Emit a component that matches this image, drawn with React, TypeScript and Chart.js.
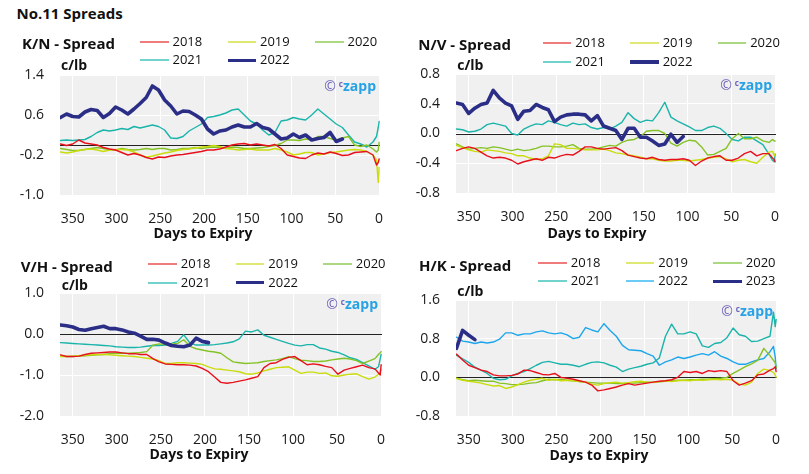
import React, { useEffect, useRef } from "react";
import { Chart, registerables } from "chart.js";

Chart.register(...registerables);

const FONT = "'Open Sans', 'DejaVu Sans', sans-serif";

// Days to expiry (shared sampling grid for every series)
const DAYS = [364, 357, 350, 343, 336, 329, 322, 315, 308, 301,
  294, 287, 280, 273, 266, 259, 252, 245, 238, 231,
  224, 217, 210, 203, 196, 189, 182, 175, 168, 161,
  154, 147, 140, 133, 126, 119, 112, 105, 98, 91,
  84, 77, 70, 63, 56, 49, 42, 35, 28, 21,
  14, 7, 3, 1, 0];

const X_TICKS = [350, 300, 250, 200, 150, 100, 50, 0];

const KN_YTICKS = [-1.0, -0.2, 0.6, 1.4];
const NV_YTICKS = [-0.8, -0.4, 0.0, 0.4, 0.8];
const VH_YTICKS = [-2.0, -1.0, 0.0, 1.0];
const HK_YTICKS = [-0.8, 0.0, 0.8, 1.6];

const YEARS_A = ["2018", "2019", "2020", "2021", "2022"];
const YEARS_B = ["2018", "2019", "2020", "2021", "2022", "2023"];

// ---- K/N spread (c/lb)
const KN_2018 = [0.02, -0.01, 0.02, 0.1, 0.04, 0.02, 0.0, -0.05, -0.08, -0.1,
  -0.15, -0.2, -0.17, -0.2, -0.25, -0.28, -0.24, -0.25, -0.22, -0.2,
  -0.19, -0.17, -0.15, -0.13, -0.1, -0.1, -0.08, -0.04, 0.0, 0.02,
  0.03, 0.0, 0.02, 0.0, -0.02, 0.01, -0.07, -0.2, -0.23, -0.26,
  -0.27, -0.2, -0.16, -0.18, -0.14, -0.17, -0.21, -0.2, -0.15, -0.14,
  -0.13, -0.2, -0.4, -0.35, -0.28];
const KN_2019 = [-0.14, -0.16, -0.14, -0.11, -0.09, -0.08, -0.1, -0.13, -0.1, -0.09,
  -0.09, -0.1, -0.14, -0.2, -0.24, -0.22, -0.19, -0.16, -0.14, -0.11,
  -0.09, -0.08, -0.06, -0.04, -0.03, -0.01, -0.03, -0.07, -0.08, -0.1,
  -0.09, -0.08, -0.1, -0.1, -0.1, -0.07, -0.1, -0.14, -0.2, -0.18,
  -0.15, -0.15, -0.2, -0.18, -0.15, -0.14, -0.12, -0.1, -0.09, -0.1,
  -0.13, -0.2, -0.3, -0.75, -0.45];
const KN_2020 = [-0.07, -0.09, -0.11, -0.11, -0.09, -0.07, -0.05, -0.07, -0.09, -0.1,
  -0.07, -0.09, -0.1, -0.09, -0.07, -0.09, -0.07, -0.07, -0.1, -0.09,
  -0.07, -0.07, -0.05, -0.07, -0.05, -0.04, -0.05, -0.07, -0.04, -0.05,
  -0.07, -0.07, -0.06, -0.05, -0.03, -0.01, 0.03, 0.1, 0.1, 0.09,
  0.12, 0.1, 0.17, 0.17, 0.13, 0.1, 0.14, 0.17, 0.0, -0.03,
  0.0, -0.08, -0.14, -0.1, 0.05];
const KN_2021 = [0.09, 0.1, 0.09, 0.1, 0.11, 0.17, 0.25, 0.3, 0.28, 0.3,
  0.33, 0.31, 0.37, 0.34, 0.37, 0.4, 0.37, 0.3, 0.14, 0.13,
  0.17, 0.28, 0.35, 0.42, 0.55, 0.57, 0.6, 0.64, 0.7, 0.72,
  0.6, 0.48, 0.42, 0.3, 0.2, 0.25, 0.48, 0.5, 0.55, 0.52,
  0.5, 0.6, 0.72, 0.62, 0.52, 0.42, 0.35, 0.2, 0.06, 0.02,
  -0.04, 0.06, 0.17, 0.35, 0.47];
const KN_2022 = [0.55, 0.62, 0.57, 0.56, 0.66, 0.71, 0.69, 0.55, 0.63, 0.76,
  0.7, 0.62, 0.72, 0.83, 0.95, 1.18, 1.1, 0.9, 0.78, 0.62,
  0.68, 0.67, 0.6, 0.52, 0.32, 0.22, 0.28, 0.3, 0.36, 0.4,
  0.36, 0.36, 0.43, 0.35, 0.32, 0.22, 0.12, 0.14, 0.22, 0.15,
  0.2, 0.1, 0.13, 0.15, 0.25, 0.07, 0.12];

// ---- N/V spread
const NV_2018 = [-0.23, -0.2, -0.18, -0.2, -0.25, -0.3, -0.33, -0.32, -0.33, -0.36,
  -0.41, -0.38, -0.36, -0.34, -0.36, -0.32, -0.33, -0.3, -0.28, -0.29,
  -0.24, -0.18, -0.18, -0.2, -0.21, -0.2, -0.19, -0.23, -0.29, -0.31,
  -0.33, -0.34, -0.32, -0.35, -0.36, -0.35, -0.35, -0.34, -0.36, -0.43,
  -0.37, -0.33, -0.31, -0.3, -0.36, -0.36, -0.33, -0.27, -0.24, -0.3,
  -0.27, -0.27, -0.33, -0.35, -0.38];
const NV_2019 = [-0.16, -0.19, -0.22, -0.24, -0.25, -0.22, -0.23, -0.24, -0.26, -0.27,
  -0.3, -0.3, -0.33, -0.35, -0.34, -0.3, -0.14, -0.15, -0.2, -0.2,
  -0.21, -0.22, -0.22, -0.22, -0.21, -0.23, -0.26, -0.27, -0.29, -0.3,
  -0.32, -0.34, -0.34, -0.36, -0.37, -0.37, -0.36, -0.36, -0.37, -0.36,
  -0.35, -0.33, -0.32, -0.31, -0.34, -0.38, -0.36, -0.35, -0.38, -0.4,
  -0.32, -0.25, -0.24, -0.3, -0.27];
const NV_2020 = [-0.14, -0.18, -0.21, -0.2, -0.19, -0.2, -0.18, -0.19, -0.21, -0.23,
  -0.21, -0.23, -0.22, -0.2, -0.17, -0.17, -0.18, -0.18, -0.17, -0.15,
  -0.2, -0.21, -0.21, -0.2, -0.18, -0.16, -0.17, -0.12, -0.09, -0.08,
  -0.04, 0.03, 0.04, 0.04, 0.0, -0.13, -0.17, -0.12, -0.09, -0.1,
  -0.18, -0.29, -0.28, -0.24, -0.2, -0.07, 0.0, -0.07, -0.07, -0.05,
  -0.1, -0.12, -0.08, -0.1, -0.1];
const NV_2021 = [0.06, 0.05, 0.02, 0.03, 0.06, 0.12, 0.14, 0.12, 0.1, 0.0,
  -0.02, 0.06, 0.1, 0.13, 0.12, 0.17, 0.15, 0.12, 0.1, 0.14,
  0.12, 0.13, 0.08, 0.06, 0.08, 0.06, 0.1, 0.15, 0.28, 0.2,
  0.15, 0.18, 0.17, 0.28, 0.42, 0.22, 0.17, 0.13, 0.09, 0.04,
  0.04, 0.08, 0.1, 0.07, 0.0, -0.08, -0.1, -0.05, -0.05, -0.1,
  -0.15, -0.28, -0.36, -0.38, -0.28];
const NV_2022 = [0.41, 0.39, 0.27, 0.34, 0.39, 0.41, 0.58, 0.48, 0.41, 0.37,
  0.19, 0.3, 0.31, 0.39, 0.35, 0.32, 0.16, 0.22, 0.25, 0.26,
  0.26, 0.25, 0.17, 0.24, 0.1, 0.07, 0.04, -0.08, 0.07, 0.07,
  -0.05, -0.05, -0.1, -0.16, -0.14, -0.01, -0.12, -0.04];

// ---- V/H spread
const VH_2018 = [-0.51, -0.55, -0.55, -0.54, -0.5, -0.47, -0.46, -0.45, -0.44, -0.44,
  -0.46, -0.48, -0.48, -0.5, -0.5, -0.6, -0.68, -0.73, -0.74, -0.75,
  -0.75, -0.76, -0.78, -0.84, -0.92, -1.05, -1.18, -1.2, -1.18, -1.15,
  -1.12, -1.08, -1.04, -0.82, -0.72, -0.7, -0.62, -0.57, -0.55, -0.65,
  -0.75, -0.73, -0.75, -0.79, -0.82, -0.98, -0.88, -0.84, -0.8, -0.76,
  -0.82, -0.85, -0.95, -1.0, -0.75];
const VH_2019 = [-0.55, -0.55, -0.54, -0.53, -0.52, -0.51, -0.5, -0.5, -0.51, -0.52,
  -0.53, -0.54, -0.55, -0.57, -0.59, -0.61, -0.65, -0.72, -0.72, -0.7,
  -0.7, -0.71, -0.72, -0.74, -0.8, -0.85, -0.86, -0.88, -0.9, -0.92,
  -0.97, -0.98, -0.95, -0.9, -0.86, -0.82, -0.81, -0.8, -0.88, -0.96,
  -0.93, -0.93, -0.96, -0.95, -1.02, -1.03, -1.0, -0.98, -0.97, -1.04,
  -1.1, -1.05, -0.98, -0.9, -0.88];
const VH_2020 = [-0.54, -0.55, -0.55, -0.54, -0.53, -0.52, -0.51, -0.5, -0.48, -0.47,
  -0.47, -0.47, -0.46, -0.45, -0.43, -0.27, -0.24, -0.26, -0.25, -0.23,
  -0.14, -0.3, -0.36, -0.39, -0.42, -0.44, -0.47, -0.58, -0.68, -0.7,
  -0.72, -0.71, -0.7, -0.67, -0.65, -0.63, -0.6, -0.55, -0.6, -0.64,
  -0.65, -0.67, -0.67, -0.66, -0.63, -0.61, -0.59, -0.61, -0.65, -0.72,
  -0.66, -0.6, -0.5, -0.46, -0.43];
const VH_2021 = [-0.21, -0.22, -0.23, -0.24, -0.25, -0.26, -0.27, -0.28, -0.29, -0.31,
  -0.32, -0.33, -0.33, -0.32, -0.3, -0.28, -0.28, -0.27, -0.23, -0.18,
  -0.02, -0.22, -0.27, -0.27, -0.27, -0.26, -0.24, -0.22, -0.19, -0.12,
  0.07, 0.05, 0.1, -0.03, -0.08, -0.13, -0.18, -0.23, -0.27, -0.29,
  -0.26, -0.26, -0.34, -0.37, -0.42, -0.45, -0.51, -0.58, -0.62, -0.7,
  -0.78, -0.86, -0.8, -0.6, -0.5];
const VH_2022 = [0.22, 0.2, 0.17, 0.11, 0.09, 0.13, 0.16, 0.19, 0.13, 0.13,
  0.1, 0.05, 0.02, -0.05, -0.13, -0.13, -0.15, -0.22, -0.28, -0.3,
  -0.31, -0.27, -0.1, -0.18, -0.21];

// ---- H/K spread
const HK_2018 = [0.48, 0.36, 0.25, 0.2, 0.15, 0.12, 0.05, 0.03, 0.03, 0.04,
  0.07, 0.15, 0.14, 0.1, 0.06, 0.05, 0.08, 0.0, -0.02, -0.04,
  -0.07, -0.1, -0.16, -0.28, -0.26, -0.23, -0.2, -0.16, -0.13, -0.16,
  -0.14, -0.12, -0.1, -0.08, -0.07, -0.05, 0.0, 0.12, 0.1, 0.12,
  0.08, 0.14, 0.12, 0.14, 0.12, -0.07, -0.16, -0.12, -0.07, 0.05,
  0.07, 0.15, 0.18, 0.22, 0.12];
const HK_2019 = [-0.02, -0.06, -0.08, -0.1, -0.12, -0.15, -0.18, -0.17, -0.23, -0.2,
  -0.15, -0.1, -0.06, -0.04, -0.02, -0.06, -0.04, -0.07, -0.06, -0.07,
  -0.08, -0.1, -0.14, -0.16, -0.13, -0.11, -0.1, -0.12, -0.11, -0.09,
  -0.08, -0.1, -0.11, -0.09, -0.07, -0.09, -0.07, -0.06, -0.07, -0.05,
  -0.06, -0.05, -0.04, -0.05, -0.04, -0.06, -0.14, -0.16, -0.1, 0.08,
  0.17, 0.14, 0.1, 0.05, 0.0];
const HK_2020 = [-0.02, -0.05, -0.07, -0.06, -0.07, -0.08, -0.08, -0.12, -0.13, -0.15,
  -0.15, -0.14, -0.12, -0.11, -0.07, -0.04, -0.05, -0.04, -0.06, -0.07,
  -0.09, -0.1, -0.11, -0.12, -0.12, -0.12, -0.13, -0.13, -0.12, -0.12,
  -0.11, -0.1, -0.1, -0.09, -0.08, -0.07, -0.06, -0.06, -0.05, -0.05,
  -0.04, -0.04, -0.03, -0.02, 0.0, 0.08, 0.15, 0.22, 0.28, 0.35,
  0.6, 0.45, 0.35, 0.3, 0.2];
const HK_2021 = [0.46, 0.38, 0.31, 0.21, 0.15, 0.08, -0.02, -0.05, -0.04, 0.03,
  0.08, 0.12, 0.18, 0.25, 0.31, 0.33, 0.3, 0.27, 0.27, 0.25,
  0.22, 0.27, 0.31, 0.32, 0.3, 0.25, 0.21, 0.12, 0.17, 0.2,
  0.23, 0.27, 0.3, 0.4, 0.85, 1.1, 0.9, 0.9, 0.94, 0.9,
  0.65, 0.62, 0.7, 0.72, 0.82, 1.02, 0.88, 0.85, 0.74, 0.75,
  0.8, 0.85, 1.35, 1.05, 1.2];
const HK_2022 = [0.83, 0.75, 0.73, 0.7, 0.73, 0.71, 0.73, 0.79, 0.92, 0.92,
  0.87, 0.9, 0.9, 0.94, 0.96, 0.92, 0.9, 0.92, 0.88, 0.8,
  0.83, 1.03, 0.98, 0.94, 1.11, 0.97, 0.85, 0.66, 0.57, 0.56,
  0.55, 0.49, 0.44, 0.25, 0.32, 0.36, 0.42, 0.39, 0.42, 0.46,
  0.49, 0.46, 0.53, 0.44, 0.39, 0.32, 0.27, 0.27, 0.32, 0.36,
  0.39, 0.53, 0.64, 0.42, 0.18];
const HK_2023 = [0.6, 0.97, 0.87, 0.78];

// ---- styles
const RED = "#e8101c";
const YEL = "#c9dc0c";
const GRN = "#84c225";
const TEAL = "#1ab4aa";
const NAVY = "#2b2e86";
const LBLUE = "#1ca6ec";
const LEGEND_TINT: Record<string, string> = {
  [RED]: "#ee7c7c",
  [YEL]: "#dfe872",
  [GRN]: "#acd882",
  [TEAL]: "#72d3cc",
  [LBLUE]: "#6ccaf6",
  [NAVY]: NAVY,
};

type Series = { label: string; values: number[]; color: string; width: number };

const mk = (labels: string[], vals: number[][], colors: string[], widths: number[]): Series[] =>
  labels.map((l, i) => ({ label: l, values: vals[i], color: colors[i], width: widths[i] }));

const PANELS = [
  {
    title: "K/N - Spread", tx: 22, ty: 44.3, ux: 61, uy: 65.7,
    plot: { l: 60, t: 75, r: 380, b: 195 }, yTicks: KN_YTICKS,
    xl: { cx: 203, cy: 233 }, lg: { x: 140, y: 41.7 },
    series: mk(YEARS_A, [KN_2018, KN_2019, KN_2020, KN_2021, KN_2022],
      [RED, YEL, GRN, TEAL, NAVY], [1.4, 1.4, 1.4, 1.4, 3.6]),
  },
  {
    title: "N/V - Spread", tx: 418.3, ty: 44.5, ux: 457.3, uy: 65,
    plot: { l: 456, t: 74, r: 776, b: 193 }, yTicks: NV_YTICKS,
    xl: { cx: 597, cy: 233 }, lg: { x: 542.7, y: 43.3 },
    series: mk(YEARS_A, [NV_2018, NV_2019, NV_2020, NV_2021, NV_2022],
      [RED, YEL, GRN, TEAL, NAVY], [1.4, 1.4, 1.4, 1.4, 3.6]),
  },
  {
    title: "V/H - Spread", tx: 20.7, ty: 266.7, ux: 61.7, uy: 285,
    plot: { l: 60, t: 293, r: 382, b: 416 }, yTicks: VH_YTICKS,
    xl: { cx: 199, cy: 454 }, lg: { x: 148.3, y: 264 },
    series: mk(YEARS_A, [VH_2018, VH_2019, VH_2020, VH_2021, VH_2022],
      [RED, YEL, GRN, TEAL, NAVY], [1.4, 1.4, 1.4, 1.4, 3.6]),
  },
  {
    title: "H/K - Spread", tx: 419, ty: 266, ux: 457.3, uy: 291.7,
    plot: { l: 456, t: 300, r: 777, b: 416 }, yTicks: HK_YTICKS,
    xl: { cx: 599, cy: 455 }, lg: { x: 538.3, y: 262.7 },
    series: mk(YEARS_B, [HK_2018, HK_2019, HK_2020, HK_2021, HK_2022, HK_2023],
      [RED, YEL, GRN, TEAL, LBLUE, NAVY], [1.4, 1.4, 1.4, 1.4, 1.4, 3.6]),
  },
];

const Y_AXIS_W = 50;
const X_AXIS_H = 38;
const PAD_T = 28;
const PAD_R = 24;

const bgPlugin = {
  id: "plotBg",
  beforeDraw(chart: any) {
    const { ctx, chartArea: a } = chart;
    ctx.save();
    ctx.fillStyle = "#f0f0f0";
    ctx.fillRect(a.left, a.top, a.right - a.left, a.bottom - a.top);
    ctx.restore();
  },
};

const zeroPlugin = {
  id: "zeroLine",
  beforeDatasetsDraw(chart: any) {
    const { ctx, chartArea: a } = chart;
    const y = Math.round(chart.scales.y.getPixelForValue(0)) + 0.5;
    ctx.save();
    ctx.strokeStyle = "#222222";
    ctx.lineWidth = 1;
    ctx.beginPath();
    ctx.moveTo(a.left, y);
    ctx.lineTo(a.right, y);
    ctx.stroke();
    ctx.restore();
  },
};

function PanelChart({ p }: { p: any }) {
  const ref = useRef<HTMLCanvasElement>(null);
  const W = Y_AXIS_W + (p.plot.r - p.plot.l) + PAD_R;
  const H = PAD_T + (p.plot.b - p.plot.t) + X_AXIS_H;
  useEffect(() => {
    if (!ref.current) return;
    const yT: number[] = p.yTicks;
    const chart = new Chart(ref.current, {
      type: "line",
      data: {
        datasets: p.series.map((s: Series) => ({
          label: s.label,
          data: s.values.map((v, i) => ({ x: DAYS[i], y: v })),
          borderColor: s.color,
          backgroundColor: s.color,
          borderWidth: s.width,
          pointRadius: 0,
          tension: 0,
          fill: false,
          order: s.width > 2 ? -1 : 0,
          borderJoinStyle: "round",
          borderCapStyle: "round",
        })),
      },
      options: {
        responsive: false,
        animation: false,
        devicePixelRatio: 1,
        events: [],
        layout: { autoPadding: false, padding: { top: PAD_T, right: PAD_R, left: 0, bottom: 0 } },
        plugins: { legend: { display: false }, tooltip: { enabled: false }, title: { display: false } },
        scales: {
          x: {
            type: "linear",
            reverse: true,
            min: -1,
            max: 364.5,
            afterBuildTicks: (s: any) => { s.ticks = X_TICKS.map((v) => ({ value: v })); },
            afterFit: (s: any) => { s.height = X_AXIS_H; },
            grid: { color: "#ffffff", lineWidth: 1, drawTicks: false },
            border: { display: false },
            ticks: { font: { family: FONT, size: 14 }, color: "#1a1a1a", padding: 16, maxRotation: 0, autoSkip: false },
          },
          y: {
            type: "linear",
            min: yT[0],
            max: yT[yT.length - 1],
            afterBuildTicks: (s: any) => { s.ticks = yT.map((v) => ({ value: v })); },
            afterFit: (s: any) => { s.width = Y_AXIS_W; },
            grid: { color: "#ffffff", lineWidth: 1, drawTicks: false },
            border: { display: false },
            ticks: {
              font: { family: FONT, size: 14 }, color: "#1a1a1a", padding: 16, autoSkip: false,
              callback: (v: any) => Number(v).toFixed(1),
            },
          },
        },
      } as any,
      plugins: [bgPlugin, zeroPlugin],
    });
    return () => chart.destroy();
  }, []);
  return (
    <canvas
      ref={ref}
      width={W}
      height={H}
      style={{ position: "absolute", left: p.plot.l - Y_AXIS_W, top: p.plot.t - PAD_T, width: W, height: H }}
    />
  );
}

function Txt({ x, cy, size, bold, color, align, children }: any) {
  const tf = align === "center" ? "translateX(-50%)" : align === "right" ? "translateX(-100%)" : undefined;
  return (
    <div
      style={{
        position: "absolute", left: x, top: cy - 0.53 * size, fontSize: size, lineHeight: `${size}px`,
        fontWeight: bold ? 700 : 400, color: color || "#111", whiteSpace: "nowrap", transform: tf,
      }}
    >
      {children}
    </div>
  );
}

function Legend({ p }: { p: any }) {
  return (
    <>
      {p.series.map((s: Series, i: number) => {
        const col = i % 3;
        const row = Math.floor(i / 3);
        const x = p.lg.x + col * 87.5;
        const cy = p.lg.y + row * 18.6;
        const th = s.width > 2 ? 3.5 : 2.2;
        return (
          <React.Fragment key={s.label}>
            <div style={{ position: "absolute", left: x, top: cy - th / 2, width: 28.5, height: th, background: LEGEND_TINT[s.color] }} />
            <Txt x={x + 32.5} cy={cy} size={13} color="#111">{s.label}</Txt>
          </React.Fragment>
        );
      })}
    </>
  );
}

function Watermark({ p }: { p: any }) {
  return (
    <div
      style={{
        position: "absolute", left: p.plot.r - 4, top: p.plot.t + 9.5 - 8, height: 16, lineHeight: "16px",
        transform: "translateX(-100%)", whiteSpace: "nowrap",
      }}
    >
      <span style={{ color: "#6b62b8", fontSize: 14 }}>©</span>
      <span style={{ color: "#6b62b8", fontSize: 8, position: "relative", top: -4, marginLeft: 3, fontWeight: 700 }}>c</span>
      <span style={{ color: "#27a2e4", fontSize: 14, fontWeight: 700 }}>zapp</span>
    </div>
  );
}

export default function App() {
  return (
    <div style={{ position: "absolute", left: 0, top: 0, width: 809, height: 474, background: "#ffffff", fontFamily: FONT, overflow: "hidden" }}>
      <Txt x={16.5} cy={14} size={15} bold color="#111">No.11 Spreads</Txt>
      {PANELS.map((p) => (
        <React.Fragment key={p.title}>
          <PanelChart p={p} />
          <Txt x={p.tx} cy={p.ty} size={15} bold>{p.title}</Txt>
          <Txt x={p.ux} cy={p.uy} size={14} bold>c/lb</Txt>
          <Txt x={p.xl.cx} cy={p.xl.cy} size={14} bold align="center">Days to Expiry</Txt>
          <Legend p={p} />
          <Watermark p={p} />
        </React.Fragment>
      ))}
    </div>
  );
}
